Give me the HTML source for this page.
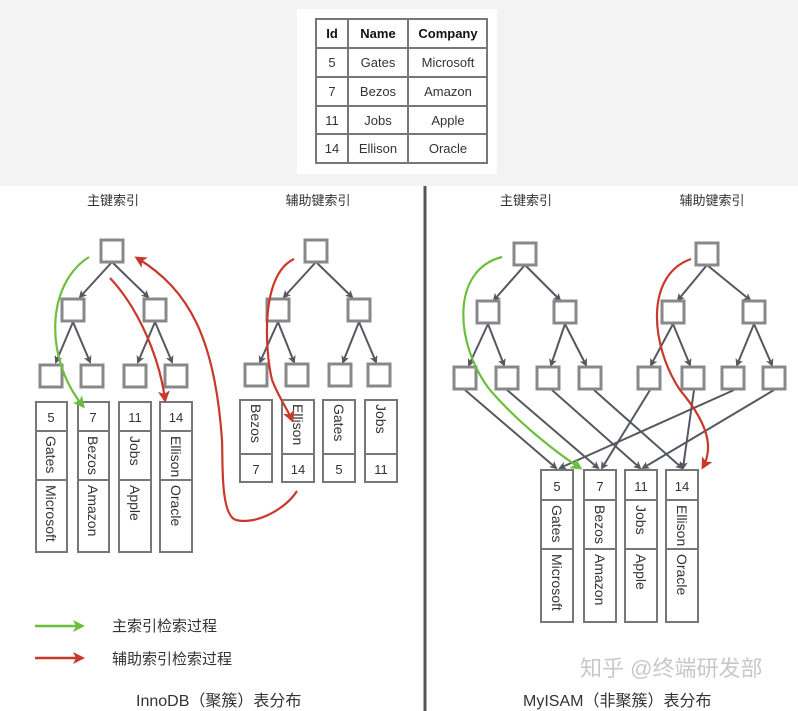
<!DOCTYPE html>
<html><head><meta charset="utf-8"><style>
html,body{margin:0;padding:0;background:#f3f3f3;}
svg{display:block;font-family:"Liberation Sans","Noto Sans CJK SC",sans-serif;}
</style></head><body>
<svg width="798" height="711" viewBox="0 0 798 711" xmlns="http://www.w3.org/2000/svg">
<defs>
<marker id="ag" markerWidth="8" markerHeight="8" refX="6" refY="4" orient="auto" markerUnits="userSpaceOnUse"><path d="M0,0 L8,4 L0,8 L2,4z" fill="#545860"/></marker>
<marker id="agr" markerWidth="12" markerHeight="12" refX="9" refY="6" orient="auto" markerUnits="userSpaceOnUse"><path d="M0,0 L12,6 L0,12 L3,6z" fill="#6cbf3c"/></marker>
<marker id="ard" markerWidth="12" markerHeight="12" refX="9" refY="6" orient="auto" markerUnits="userSpaceOnUse"><path d="M0,0 L12,6 L0,12 L3,6z" fill="#c8392b"/></marker>
</defs>
<rect x="297" y="9" width="200" height="165" fill="#fff"/>
<rect x="0" y="186" width="798" height="525" fill="#fff"/>
<!-- table -->
<g stroke="#777" stroke-width="2" fill="none">
<rect x="316" y="19" width="171" height="144"/>
<line x1="348" y1="19" x2="348" y2="163"/><line x1="408" y1="19" x2="408" y2="163"/>
<line x1="316" y1="48" x2="487" y2="48"/><line x1="316" y1="77" x2="487" y2="77"/>
<line x1="316" y1="106" x2="487" y2="106"/><line x1="316" y1="134" x2="487" y2="134"/>
</g>
<g font-size="13" fill="#333" text-anchor="middle">
<text x="332" y="38" font-weight="bold" fill="#111">Id</text><text x="378" y="38" font-weight="bold" fill="#111">Name</text><text x="448" y="38" font-weight="bold" fill="#111">Company</text>
<text x="332" y="67">5</text><text x="378" y="67">Gates</text><text x="448" y="67">Microsoft</text>
<text x="332" y="96">7</text><text x="378" y="96">Bezos</text><text x="448" y="96">Amazon</text>
<text x="332" y="125">11</text><text x="378" y="125">Jobs</text><text x="448" y="125">Apple</text>
<text x="332" y="153">14</text><text x="378" y="153">Ellison</text><text x="448" y="153">Oracle</text>
</g>
<line x1="425" y1="186" x2="425" y2="711" stroke="#555" stroke-width="3"/>
<g font-size="13" fill="#333" text-anchor="middle">
<text x="113" y="205">主键索引</text><text x="318" y="205">辅助键索引</text>
<text x="526" y="205">主键索引</text><text x="712" y="205">辅助键索引</text>
</g>
<!-- tree edges -->
<g stroke="#545860" stroke-width="2" marker-end="url(#ag)">
<line x1="112" y1="262" x2="80" y2="297"/><line x1="112" y1="262" x2="148" y2="297"/>
<line x1="73" y1="322" x2="56" y2="362"/><line x1="73" y1="322" x2="90" y2="362"/>
<line x1="155" y1="322" x2="138" y2="362"/><line x1="155" y1="322" x2="172" y2="362"/>
<line x1="316" y1="262" x2="284" y2="297"/><line x1="316" y1="262" x2="352" y2="297"/>
<line x1="278" y1="322" x2="260" y2="362"/><line x1="278" y1="322" x2="294" y2="362"/>
<line x1="359" y1="322" x2="343" y2="362"/><line x1="359" y1="322" x2="376" y2="362"/>
<line x1="525" y1="265" x2="494" y2="300"/><line x1="525" y1="265" x2="560" y2="300"/>
<line x1="488" y1="324" x2="469" y2="365"/><line x1="488" y1="324" x2="504" y2="365"/>
<line x1="565" y1="324" x2="551" y2="365"/><line x1="565" y1="324" x2="586" y2="365"/>
<line x1="707" y1="265" x2="678" y2="300"/><line x1="707" y1="265" x2="750" y2="300"/>
<line x1="673" y1="324" x2="651" y2="365"/><line x1="673" y1="324" x2="690" y2="365"/>
<line x1="754" y1="324" x2="737" y2="365"/><line x1="754" y1="324" x2="772" y2="365"/>
<line x1="465" y1="390" x2="556" y2="468"/><line x1="507" y1="390" x2="598" y2="468"/>
<line x1="552" y1="390" x2="640" y2="468"/><line x1="594" y1="390" x2="682" y2="468"/>
<line x1="650" y1="390" x2="602" y2="468"/><line x1="694" y1="390" x2="683" y2="468"/>
<line x1="734" y1="390" x2="560" y2="468"/><line x1="774" y1="390" x2="643" y2="468"/>
</g>
<!-- boxes -->
<g fill="#fff" stroke="#888" stroke-width="3">
<rect x="101" y="240" width="22" height="22"/><rect x="62" y="299" width="22" height="22"/><rect x="144" y="299" width="22" height="22"/>
<rect x="40" y="365" width="22" height="22"/><rect x="81" y="365" width="22" height="22"/><rect x="124" y="365" width="22" height="22"/><rect x="165" y="365" width="22" height="22"/>
<rect x="305" y="240" width="22" height="22"/><rect x="267" y="299" width="22" height="22"/><rect x="348" y="299" width="22" height="22"/>
<rect x="245" y="364" width="22" height="22"/><rect x="286" y="364" width="22" height="22"/><rect x="329" y="364" width="22" height="22"/><rect x="368" y="364" width="22" height="22"/>
<rect x="514" y="243" width="22" height="22"/><rect x="477" y="301" width="22" height="22"/><rect x="554" y="301" width="22" height="22"/>
<rect x="454" y="367" width="22" height="22"/><rect x="496" y="367" width="22" height="22"/><rect x="537" y="367" width="22" height="22"/><rect x="579" y="367" width="22" height="22"/>
<rect x="696" y="243" width="22" height="22"/><rect x="662" y="301" width="22" height="22"/><rect x="743" y="301" width="22" height="22"/>
<rect x="638" y="367" width="22" height="22"/><rect x="682" y="367" width="22" height="22"/><rect x="722" y="367" width="22" height="22"/><rect x="763" y="367" width="22" height="22"/>
</g>
<!-- leaf columns -->
<g fill="#fff" stroke="#777" stroke-width="2">
<rect x="36" y="402" width="31" height="150"/><rect x="78" y="402" width="31" height="150"/><rect x="119" y="402" width="32" height="150"/><rect x="160" y="402" width="32" height="150"/>
<line x1="36" y1="431" x2="67" y2="431"/><line x1="78" y1="431" x2="109" y2="431"/><line x1="119" y1="431" x2="151" y2="431"/><line x1="160" y1="431" x2="192" y2="431"/>
<line x1="36" y1="480" x2="67" y2="480"/><line x1="78" y1="480" x2="109" y2="480"/><line x1="119" y1="480" x2="151" y2="480"/><line x1="160" y1="480" x2="192" y2="480"/>
<rect x="240" y="400" width="32" height="82"/><rect x="282" y="400" width="32" height="82"/><rect x="323" y="400" width="32" height="82"/><rect x="365" y="400" width="32" height="82"/>
<line x1="240" y1="454" x2="272" y2="454"/><line x1="282" y1="454" x2="314" y2="454"/><line x1="323" y1="454" x2="355" y2="454"/><line x1="365" y1="454" x2="397" y2="454"/>
<rect x="541" y="470" width="32" height="152"/><rect x="584" y="470" width="32" height="152"/><rect x="625" y="470" width="32" height="152"/><rect x="666" y="470" width="32" height="152"/>
<line x1="541" y1="500" x2="573" y2="500"/><line x1="584" y1="500" x2="616" y2="500"/><line x1="625" y1="500" x2="657" y2="500"/><line x1="666" y1="500" x2="698" y2="500"/>
<line x1="541" y1="549" x2="573" y2="549"/><line x1="584" y1="549" x2="616" y2="549"/><line x1="625" y1="549" x2="657" y2="549"/><line x1="666" y1="549" x2="698" y2="549"/>
</g>
<g font-size="13" fill="#333" text-anchor="middle">
<text x="51" y="422">5</text><text x="93" y="422">7</text><text x="135" y="422">11</text><text x="176" y="422">14</text>
<text x="256" y="474">7</text><text x="298" y="474">14</text><text x="339" y="474">5</text><text x="381" y="474">11</text>
<text x="557" y="491">5</text><text x="600" y="491">7</text><text x="641" y="491">11</text><text x="682" y="491">14</text>
</g>
<g font-size="14" fill="#333">
<g transform="rotate(90)">
<text x="436" y="-46">Gates</text><text x="485" y="-46">Microsoft</text>
<text x="436" y="-88">Bezos</text><text x="485" y="-88">Amazon</text>
<text x="436" y="-130">Jobs</text><text x="485" y="-130">Apple</text>
<text x="436" y="-171">Ellison</text><text x="485" y="-171">Oracle</text>
<text x="404" y="-251">Bezos</text><text x="404" y="-293">Ellison</text><text x="404" y="-334">Gates</text><text x="404" y="-376">Jobs</text>
<text x="505" y="-552">Gates</text><text x="554" y="-552">Microsoft</text>
<text x="505" y="-595">Bezos</text><text x="554" y="-595">Amazon</text>
<text x="505" y="-636">Jobs</text><text x="554" y="-636">Apple</text>
<text x="505" y="-677">Ellison</text><text x="554" y="-677">Oracle</text>
</g>
</g>
<!-- search paths -->
<g fill="none" stroke-width="2.2">
<path d="M89,257 C45,285 45,360 83,406" stroke="#6cbf3c" marker-end="url(#agr)"/>
<path d="M110,278 C140,310 160,360 165,400" stroke="#c8392b" marker-end="url(#ard)"/>
<path d="M297,491 C285,510 255,525 236,520 C220,515 223,460 222,440 C215,340 190,290 137,258" stroke="#c8392b" marker-end="url(#ard)"/>
<path d="M294,259 C260,275 265,350 272,380 C280,400 288,410 292,420" stroke="#c8392b" marker-end="url(#ard)"/>
<path d="M502,257 C450,270 455,345 490,390 C520,425 560,455 580,468" stroke="#6cbf3c" marker-end="url(#agr)"/>
<path d="M691,259 C645,275 650,345 680,390 C705,420 715,445 703,467" stroke="#c8392b" marker-end="url(#ard)"/>
</g>
<!-- legend -->
<line x1="35" y1="626" x2="82" y2="626" stroke="#6cbf3c" stroke-width="2.5" marker-end="url(#agr)"/>
<line x1="35" y1="658" x2="82" y2="658" stroke="#c8392b" stroke-width="2.5" marker-end="url(#ard)"/>
<g font-size="15" fill="#333">
<text x="112" y="631">主索引检索过程</text>
<text x="112" y="664">辅助索引检索过程</text>
<text x="136" y="706" font-size="16">InnoDB（聚簇）表分布</text>
<text x="523" y="706" font-size="16">MyISAM（非聚簇）表分布</text>
</g>
<text x="580" y="676" font-size="22" fill="#c8c8c8">知乎 @终端研发部</text>
</svg>
</body></html>
